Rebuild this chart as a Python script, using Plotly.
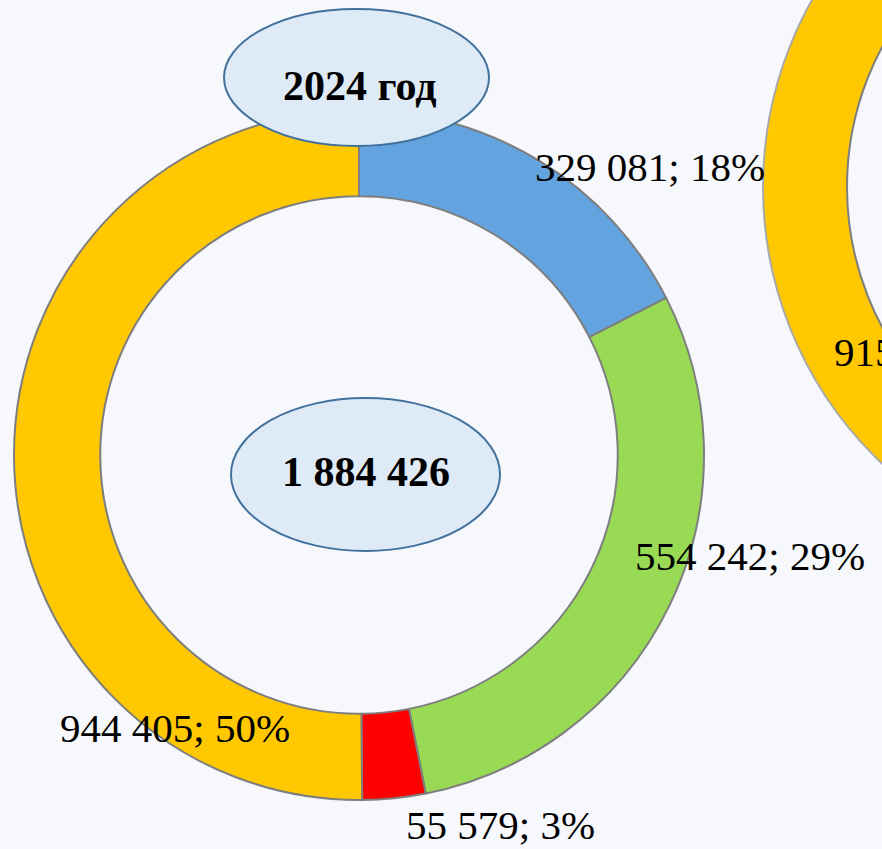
import plotly.graph_objects as go

# ---- data ----
categories = ["Синий", "Зелёный", "Красный", "Жёлтый"]
values = [329081, 554242, 55579, 944405]
percents = [18, 29, 3, 50]
total_value = 1884426
year_label = "2024 год"
next_chart_label = "915"

# ---- styling ----
W, H = 882, 849
colors = ["#62A3E0", "#99DA55", "#FF0000", "#FFC800"]
BG = "#F6F8FB"
SERIF = "Times New Roman, Liberation Serif, serif"


def fmt(v):
    return f"{v:,}".replace(",", " ")


def px(x):
    return x / W


def py(y):
    return 1 - y / H


# pie geometry (pixels)
cx, cy, R = 359, 455, 345

fig = go.Figure()
fig.add_trace(go.Pie(
    labels=categories,
    values=values,
    sort=False,
    direction="clockwise",
    rotation=0,
    hole=0.75,
    textinfo="none",
    hoverinfo="label+value+percent",
    marker=dict(colors=colors, line=dict(color="#7E7E7E", width=2)),
    domain=dict(x=[px(cx - R), px(cx + R)], y=[py(cy + R), py(cy - R)]),
    showlegend=False,
))

# label positions (pixel centres)
label_pos = [(650, 167), (750, 556), (501, 825), (175, 728)]
annotations = []
for v, p, (lx, ly) in zip(values, percents, label_pos):
    annotations.append(dict(
        x=px(lx), y=py(ly), xref="paper", yref="paper",
        text=f"{fmt(v)}; {p}%", showarrow=False,
        xanchor="center", yanchor="middle",
        font=dict(family=SERIF, size=41, color="#000000"),
    ))

annotations.append(dict(
    x=px(360), y=py(86), xref="paper", yref="paper",
    text=f"<b>{year_label}</b>", showarrow=False,
    xanchor="center", yanchor="middle",
    font=dict(family=SERIF, size=42, color="#000000"),
))
annotations.append(dict(
    x=px(366), y=py(472), xref="paper", yref="paper",
    text=f"<b>{fmt(total_value)}</b>", showarrow=False,
    xanchor="center", yanchor="middle",
    font=dict(family=SERIF, size=42, color="#000000"),
))
annotations.append(dict(
    x=px(832), y=py(352), xref="paper", yref="paper",
    text=next_chart_label, showarrow=False,
    xanchor="left", yanchor="middle",
    font=dict(family=SERIF, size=41, color="#000000"),
))

shapes = []
# partially visible neighbouring doughnut (cut off at the right edge)
ncx, ncy = 1144, 187
r_mid, r_w = 339, 84
shapes.append(dict(type="circle", xref="paper", yref="paper", layer="below",
                   x0=px(ncx - r_mid), x1=px(ncx + r_mid),
                   y0=py(ncy + r_mid), y1=py(ncy - r_mid),
                   line=dict(color="#FFC800", width=r_w)))
for rr, col in [(r_mid + r_w / 2, "#A9A9A9"), (r_mid - r_w / 2, "#7E7E7E")]:
    shapes.append(dict(type="circle", xref="paper", yref="paper", layer="below",
                       x0=px(ncx - rr), x1=px(ncx + rr),
                       y0=py(ncy + rr), y1=py(ncy - rr),
                       line=dict(color=col, width=2)))

# ellipses with titles
for (x0, x1, y0, y1) in [(224, 489, 9, 146), (231, 500, 398, 551)]:
    shapes.append(dict(type="circle", xref="paper", yref="paper", layer="above",
                       x0=px(x0), x1=px(x1), y0=py(y1), y1=py(y0),
                       fillcolor="#DEEAF6", line=dict(color="#41719C", width=2)))

fig.update_layout(
    width=W, height=H,
    margin=dict(l=0, r=0, t=0, b=0),
    paper_bgcolor=BG, plot_bgcolor=BG,
    shapes=shapes,
    annotations=annotations,
)

fig.write_html(
    "out.html",
    config={"displayModeBar": False},
    post_script="document.body.style.margin='0';document.body.style.overflow='hidden';",
)
